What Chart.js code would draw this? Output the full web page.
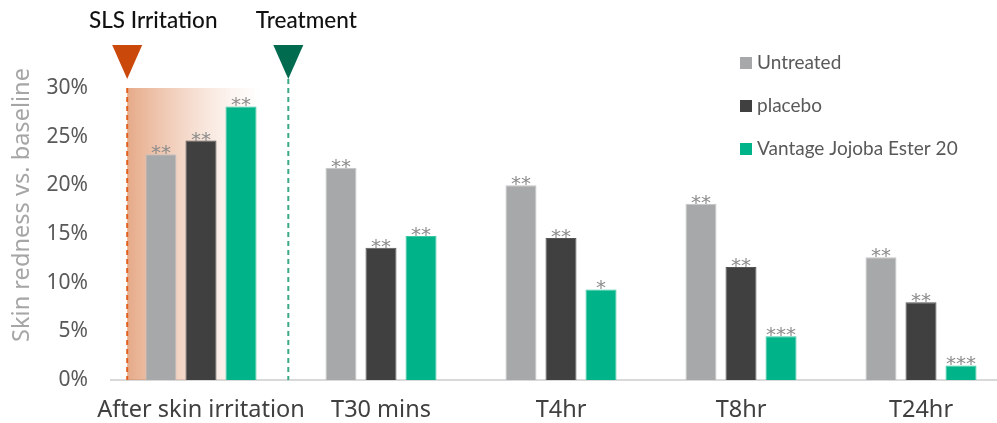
<!DOCTYPE html>
<html>
<head>
<meta charset="utf-8">
<script src="https://cdn.jsdelivr.net/npm/chart.js@4.4.1/dist/chart.umd.min.js"></script>
<style>
  html, body { margin: 0; padding: 0; background: #fff; overflow: hidden; }
  #wrap { width: 1011px; height: 423px; position: relative; }
</style>
</head>
<body>
<div id="wrap"><canvas id="chart"></canvas></div>
<script>
// data (percent)
const categories = ['After skin irritation', 'T30 mins', 'T4hr', 'T8hr', 'T24hr'];
const seriesNames = ['Untreated', 'placebo', 'Vantage Jojoba Ester 20'];
const untreated = [23.2, 21.8, 20.0, 18.1, 12.6];
const placebo = [24.6, 13.6, 14.6, 11.6, 8.0];
const jojoba = [28.1, 14.8, 9.3, 4.5, 1.5];
const untreatedSig = ['**', '**', '**', '**', '**'];
const placeboSig = ['**', '**', '**', '**', '**'];
const jojobaSig = ['**', '**', '*', '***', '***'];
const yTicks = [0, 5, 10, 15, 20, 25, 30];
const phaseLabels = ['SLS Irritation', 'Treatment'];
const yTitle = 'Skin redness vs. baseline';

const FONT = 'Lato';
const AXIS_FONT = '"Noto Sans"';
const colors = ['#a7a8a9', '#404040', '#00b388'];
const edges = ['#c4c5c6', '#555555', '#3cc7a2'];

// helper: pixel for a fractional category position
function catPx(x, v) {
  const p0 = x.getPixelForValue(0), p1 = x.getPixelForValue(1);
  return p0 + v * (p1 - p0);
}

const decorations = {
  id: 'decorations',
  beforeDatasetsDraw(chart) {
    const { ctx, scales: { x, y } } = chart;
    const top = y.getPixelForValue(30), bottom = y.getPixelForValue(0);
    const orangeX = catPx(x, -0.41), greenX = catPx(x, 0.485), fadeX = catPx(x, 0.34);

    // irritation shading
    const g = ctx.createLinearGradient(orangeX, 0, fadeX, 0);
    g.addColorStop(0, 'rgba(218,130,80,0.68)');
    g.addColorStop(0.5, 'rgba(228,155,115,0.32)');
    g.addColorStop(1, 'rgba(240,200,180,0)');
    ctx.save();
    ctx.fillStyle = g;
    ctx.fillRect(orangeX, top, fadeX - orangeX, bottom - top);

    ctx.lineWidth = 2;
    ctx.setLineDash([5, 4]);
    ctx.strokeStyle = '#e0621e';
    ctx.beginPath(); ctx.moveTo(orangeX, top); ctx.lineTo(orangeX, bottom); ctx.stroke();
    ctx.strokeStyle = '#3aa886';
    ctx.beginPath(); ctx.moveTo(greenX, top - 9); ctx.lineTo(greenX, bottom); ctx.stroke();
    ctx.restore();
  },
  afterDraw(chart) {
    const { ctx, scales: { x } } = chart;
    const orangeX = catPx(x, -0.41), greenX = catPx(x, 0.485);
    ctx.save();

    // triangles
    [[orangeX, '#c9480a'], [greenX, '#006b4f']].forEach(([cx, c]) => {
      ctx.fillStyle = c;
      ctx.beginPath();
      ctx.moveTo(cx - 15, 45);
      ctx.lineTo(cx + 15, 45);
      ctx.lineTo(cx, 79);
      ctx.closePath();
      ctx.fill();
    });

    // phase titles
    ctx.fillStyle = '#111';
    ctx.font = `500 22.5px ${FONT}`;
    ctx.textAlign = 'center';
    ctx.textBaseline = 'alphabetic';
    ctx.fillText(phaseLabels[0], orangeX + 26, 28);
    ctx.fillText(phaseLabels[1], greenX + 18, 28);

    // y title, stretched to the length it has in the original
    ctx.save();
    ctx.font = `22px ${AXIS_FONT}`;
    const size = 22 * 274 / ctx.measureText(yTitle).width;
    ctx.font = `${size}px ${AXIS_FONT}`;
    ctx.translate(29, 205);
    ctx.rotate(-Math.PI / 2);
    ctx.fillStyle = '#a6a6a6';
    ctx.textAlign = 'center';
    ctx.textBaseline = 'alphabetic';
    ctx.fillText(yTitle, 0, 0);
    ctx.restore();

    // legend
    ctx.font = `19px ${FONT}`;
    ctx.textAlign = 'left';
    ctx.textBaseline = 'middle';
    seriesNames.forEach((name, i) => {
      const cy = 63 + i * 43;
      ctx.fillStyle = colors[i];
      ctx.fillRect(740, cy - 6, 12, 12);
      ctx.fillStyle = '#595959';
      ctx.fillText(name, 757, cy);
    });

    // significance marks
    const sigs = [untreatedSig, placeboSig, jojobaSig];
    ctx.font = `20px "DejaVu Sans"`;
    ctx.fillStyle = '#8c8c8c';
    ctx.textAlign = 'center';
    ctx.textBaseline = 'alphabetic';
    chart.data.datasets.forEach((ds, di) => {
      chart.getDatasetMeta(di).data.forEach((bar, i) => {
        ctx.fillText(sigs[di][i], bar.x, bar.y + 5);
      });
    });
    ctx.restore();
  }
};

new Chart(document.getElementById('chart'), {
  type: 'bar',
  data: {
    labels: categories,
    datasets: seriesNames.map((name, i) => ({
      label: name,
      data: [untreated, placebo, jojoba][i],
      backgroundColor: colors[i],
      borderColor: edges[i],
      borderWidth: 1
    }))
  },
  options: {
    responsive: true,
    maintainAspectRatio: false,
    animation: false,
    layout: { padding: { top: 88, right: 0, left: 0, bottom: 0 } },
    datasets: { bar: { categoryPercentage: 0.667, barPercentage: 0.775 } },
    plugins: { legend: { display: false }, tooltip: { enabled: false } },
    scales: {
      x: {
        grid: { display: false },
        border: { color: '#d9d9d9', width: 2 },
        ticks: { color: '#404040', font: { family: 'Noto Sans', size: 23.5 }, padding: 8, maxRotation: 0, minRotation: 0, autoSkip: false },
        afterFit(s) { s.height = 43; }
      },
      y: {
        min: 0,
        max: 30,
        afterBuildTicks(s) { s.ticks = yTicks.map(v => ({ value: v })); },
        grid: { display: false },
        border: { display: false },
        ticks: { color: '#595959', font: { family: 'Noto Sans', size: 21 }, padding: 15, callback: v => v + '%' },
        afterFit(s) { s.width = 111; }
      }
    }
  },
  plugins: [decorations]
});
</script>
</body>
</html>
